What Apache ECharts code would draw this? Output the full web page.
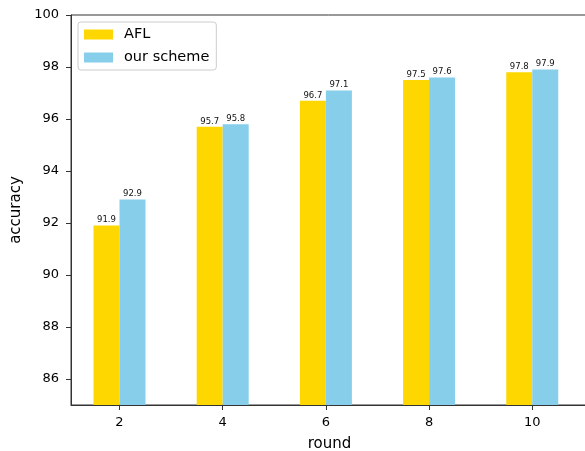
<!DOCTYPE html>
<html><head><meta charset="utf-8">
<script src="https://cdn.jsdelivr.net/npm/echarts@6/dist/echarts.min.js"></script>
<style>html,body{margin:0;padding:0;background:#fff}#c{width:585px;height:451px}</style>
</head><body><div id="c"></div>
<script>
const rounds = [2, 4, 6, 8, 10];
const aflValues = [91.9, 95.7, 96.7, 97.5, 97.8];
const schemeValues = [92.9, 95.8, 97.1, 97.6, 97.9];
const yTicks = [86, 88, 90, 92, 94, 96, 98, 100];
const xTicks = [2, 4, 6, 8, 10];

const font = 'DejaVu Sans';
const chart = echarts.init(document.getElementById('c'), null, {renderer: 'canvas'});
const lbl = {show: true, position: 'top', distance: 1, fontSize: 8.5, color: '#111', fontFamily: font};
chart.setOption({
  animation: false,
  grid: {left: 71, top: 15, right: -3, bottom: 46, show: true, borderColor: '#333', borderWidth: 1,
         containLabel: false, outerBoundsMode: 'none'},
  legend: {
    left: 78, top: 22, orient: 'vertical', itemWidth: 29, itemHeight: 10, itemGap: 8,
    padding: [5, 7, 5, 6], borderColor: '#ccc', borderWidth: 1, borderRadius: 3,
    icon: 'rect', textStyle: {fontSize: 14.5, color: '#000', fontFamily: font, padding: [0, 0, 0, 6]},
    data: ['AFL', 'our scheme']
  },
  xAxis: {
    type: 'value', min: 1.06, max: 11.08,
    name: 'round', nameLocation: 'middle', nameGap: 32,
    nameTextStyle: {fontSize: 15, color: '#000', fontFamily: font},
    axisLine: {show: true, lineStyle: {color: '#333'}},
    axisTick: {show: true, length: 5, lineStyle: {color: '#333'}, customValues: xTicks},
    axisLabel: {fontSize: 13, color: '#000', fontFamily: font, margin: 11, customValues: xTicks},
    splitLine: {show: false}
  },
  yAxis: {
    type: 'value', min: 85, max: 100,
    name: 'accuracy', nameLocation: 'middle', nameGap: 42,
    nameTextStyle: {fontSize: 15, color: '#000', fontFamily: font},
    axisLine: {show: true, lineStyle: {color: '#333'}},
    axisTick: {show: true, length: 5, lineStyle: {color: '#333'}, customValues: yTicks},
    axisLabel: {fontSize: 13, color: '#000', fontFamily: font, margin: 12, customValues: yTicks},
    splitLine: {show: false}
  },
  series: [
    {name: 'AFL', type: 'bar', barWidth: 26, barGap: '0%',
     itemStyle: {color: '#FFD700'}, label: lbl,
     data: rounds.map((r, i) => [r, aflValues[i]])},
    {name: 'our scheme', type: 'bar', barWidth: 26, barGap: '0%',
     itemStyle: {color: '#87CEEB'}, label: lbl,
     data: rounds.map((r, i) => [r, schemeValues[i]])}
  ]
});
</script></body></html>
